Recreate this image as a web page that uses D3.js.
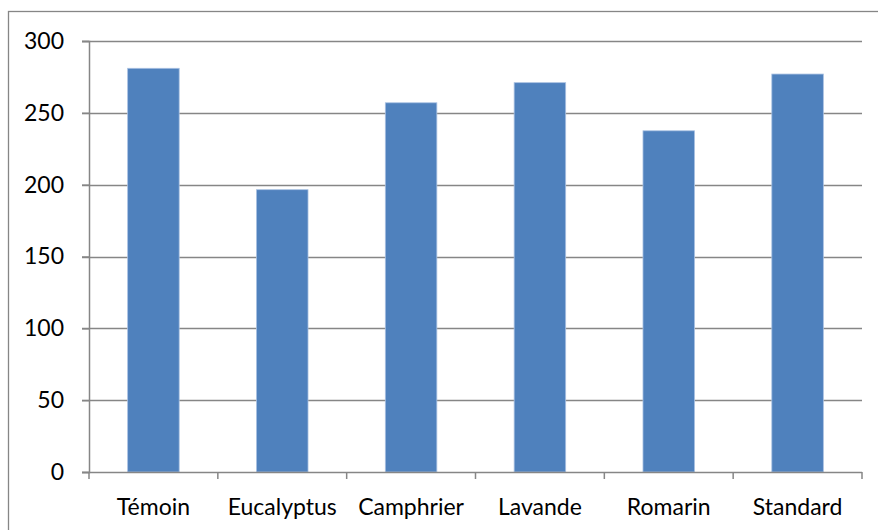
<html>
<head>
<title>Bar chart</title>
<style>body{margin:0;background:#fff}</style>
<script src="https://d3js.org/d3.v7.min.js" charset="utf-8"></script>
</head>
<body>
<div id="chart"></div>
<script type="text/javascript">

    // data
    var categories = ["Témoin", "Eucalyptus", "Camphrier", "Lavande", "Romarin", "Standard"];
    var values = [281, 196.5, 257, 271, 237.5, 277];
    var yTicks = [0, 50, 100, 150, 200, 250, 300];

    var W = 878, H = 530;
    var margin = {top: 41, right: 16, bottom: 58, left: 89},
        width = 862 - margin.left,
        height = 472 - margin.top;

    var fillColor = "#4F81BD";
    var gridColor = "#868686";
    var font = "Lato, 'Open Sans', sans-serif";
    var fontSize = "23px";

    var svg = d3.select("#chart").append("svg")
        .attr("width", W)
        .attr("height", H);

    // outer chart frame (cut off on right and bottom)
    svg.append("rect")
        .attr("x", 8.5).attr("y", 11.5)
        .attr("width", W + 10).attr("height", H + 10)
        .attr("fill", "none")
        .attr("stroke", gridColor)
        .attr("stroke-width", 1.3);

    var g = svg.append("g")
        .attr("transform", "translate(" + margin.left + "," + margin.top + ")");

    var x = d3.scaleBand().domain(categories).range([0, width]).paddingInner(0.6).paddingOuter(0.3);
    var xb = d3.scaleBand().domain(categories).range([0, width]);
    var y = d3.scaleLinear().domain([0, 300]).range([height, 0]);

    // horizontal gridlines
    g.selectAll("line.grid")
        .data(yTicks.filter(function(d) { return d > 0; }))
        .enter().append("line")
        .attr("class", "grid")
        .attr("x1", -7).attr("x2", width)
        .attr("y1", function(d) { return Math.round(y(d)) + 0.5; })
        .attr("y2", function(d) { return Math.round(y(d)) + 0.5; })
        .attr("stroke", gridColor)
        .attr("stroke-width", 1.5);

    // bars
    g.selectAll("rect.bar")
        .data(values)
        .enter().append("rect")
        .attr("class", "bar")
        .attr("x", function(d, i) { return x(categories[i]); })
        .attr("width", x.bandwidth())
        .attr("y", function(d) { return y(d); })
        .attr("height", function(d) { return height - y(d); })
        .attr("fill", fillColor)
        .attr("stroke", "#a9c1e2")
        .attr("stroke-width", 0.8);

    // y axis
    var yAxis = g.append("g")
        .call(d3.axisLeft(y).tickValues(yTicks).tickSize(7).tickPadding(18));
    yAxis.select(".domain").attr("stroke", gridColor).attr("stroke-width", 1.5);
    yAxis.selectAll(".tick line").attr("stroke", gridColor).attr("stroke-width", 1.5);
    yAxis.selectAll("text")
        .attr("font-family", font)
        .attr("font-size", fontSize)
        .attr("fill", "#000");

    // x axis with ticks between categories
    var xAxis = g.append("g")
        .attr("transform", "translate(0," + height + ")");
    xAxis.append("line")
        .attr("x1", -7).attr("x2", width)
        .attr("y1", 0.5).attr("y2", 0.5)
        .attr("stroke", gridColor).attr("stroke-width", 1.5);
    xAxis.selectAll("line.sep")
        .data(categories.concat([null]))
        .enter().append("line")
        .attr("class", "sep")
        .attr("x1", function(d, i) { return i * xb.bandwidth(); })
        .attr("x2", function(d, i) { return i * xb.bandwidth(); })
        .attr("y1", 0).attr("y2", 7)
        .attr("stroke", gridColor).attr("stroke-width", 1.5);
    xAxis.selectAll("text")
        .data(categories)
        .enter().append("text")
        .attr("x", function(d) { return xb(d) + xb.bandwidth() / 2; })
        .attr("y", 43)
        .attr("text-anchor", "middle")
        .attr("font-family", font)
        .attr("font-size", fontSize)
        .attr("fill", "#000")
        .text(function(d) { return d; });

</script>
</body>
</html>
